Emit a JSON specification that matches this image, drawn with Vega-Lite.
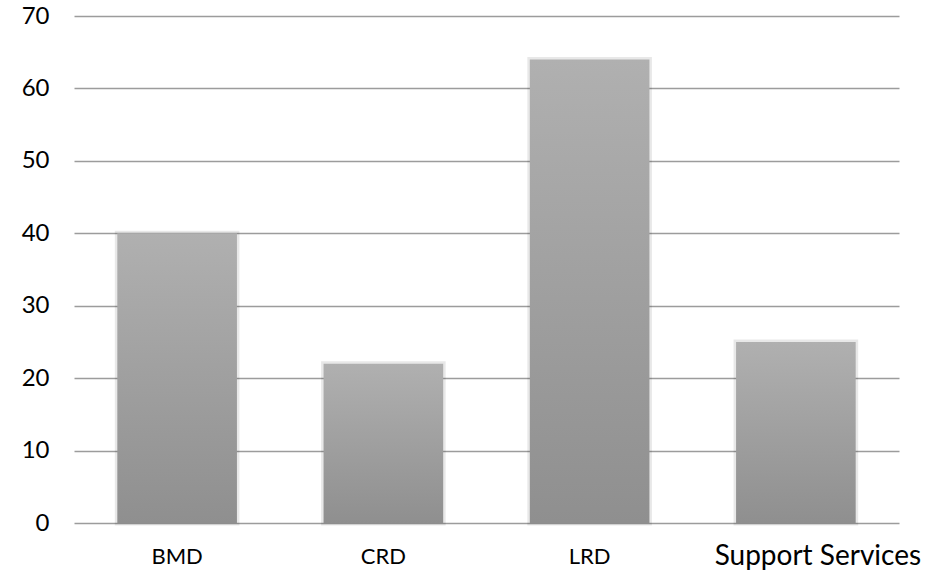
{
  "$schema": "https://vega.github.io/schema/vega-lite/v6.json",
  "width": 825,
  "height": 507,
  "autosize": "none",
  "padding": {"left": 74, "top": 16, "right": 39, "bottom": 51},
  "background": "white",
  "view": {"stroke": null},
  "data": {
    "values": [
      {"unit": "BMD", "count": 40},
      {"unit": "CRD", "count": 22},
      {"unit": "LRD", "count": 64},
      {"unit": "Support Services", "count": 25}
    ]
  },
  "encoding": {
    "x": {
      "field": "unit",
      "type": "nominal",
      "sort": null,
      "title": null,
      "scale": {"paddingInner": 0.42, "paddingOuter": 0.21},
      "axis": {
        "domain": false,
        "ticks": false,
        "grid": false,
        "labelAngle": 0,
        "labelLimit": 0,
        "labelFont": "Lato",
        "labelColor": "#000000",
        "labelFontSize": {"condition": {"test": "datum.value == 'Support Services'", "value": 28}, "value": 22},
        "labelPadding": {"condition": {"test": "datum.value == 'Support Services'", "value": 19}, "value": 23},
        "labelOffset": {"condition": {"test": "datum.value == 'Support Services'", "value": 22}, "value": 0}
      }
    },
    "y": {
      "field": "count",
      "type": "quantitative",
      "title": null,
      "scale": {"domain": [0, 70], "nice": false},
      "axis": {
        "values": [0, 10, 20, 30, 40, 50, 60, 70],
        "domain": false,
        "ticks": false,
        "grid": true,
        "gridColor": "#9c9c9c",
        "gridWidth": 1.5,
        "labelFont": "Lato",
        "labelFontSize": 24,
        "labelColor": "#000000",
        "labelPadding": 25
      }
    }
  },
  "layer": [
    {
      "mark": {
        "type": "bar",
        "fill": null,
        "stroke": "#000000",
        "strokeOpacity": 0.09,
        "strokeWidth": 5
      }
    },
    {
      "mark": {
        "type": "bar",
        "color": {
          "gradient": "linear",
          "x1": 0, "y1": 0, "x2": 0, "y2": 1,
          "stops": [
            {"offset": 0, "color": "#b0b0b0"},
            {"offset": 1, "color": "#8f8f8f"}
          ]
        }
      }
    }
  ]
}
